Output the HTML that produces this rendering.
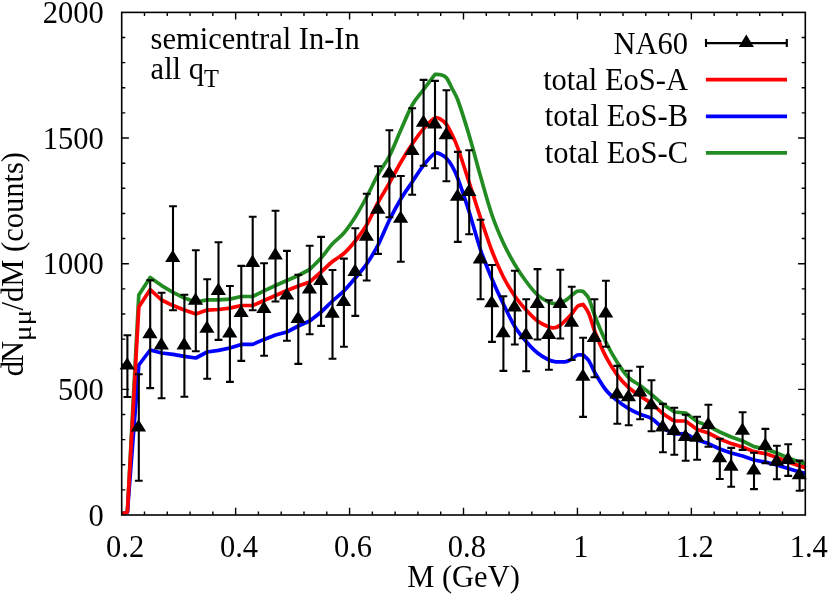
<!DOCTYPE html>
<html><head><meta charset="utf-8"><title>plot</title>
<style>html,body{margin:0;padding:0;background:#fff}svg{display:block;will-change:transform}.t{font-family:"Liberation Serif",serif}</style></head>
<body>
<svg width="830" height="594" viewBox="0 0 830 594">
<rect width="830" height="594" fill="#fff"/>
<defs><clipPath id="c"><rect x="121.7" y="12.4" width="683.5999999999999" height="502.6"/></clipPath></defs>
<path d="M144.49,515.0v-3.6M144.49,12.4v3.6M167.27,515.0v-3.6M167.27,12.4v3.6M190.06,515.0v-3.6M190.06,12.4v3.6M212.85,515.0v-3.6M212.85,12.4v3.6M235.63,515.0v-7.2M235.63,12.4v7.2M258.42,515.0v-3.6M258.42,12.4v3.6M281.21,515.0v-3.6M281.21,12.4v3.6M303.99,515.0v-3.6M303.99,12.4v3.6M326.78,515.0v-3.6M326.78,12.4v3.6M349.57,515.0v-7.2M349.57,12.4v7.2M372.35,515.0v-3.6M372.35,12.4v3.6M395.14,515.0v-3.6M395.14,12.4v3.6M417.93,515.0v-3.6M417.93,12.4v3.6M440.71,515.0v-3.6M440.71,12.4v3.6M463.50,515.0v-7.2M463.50,12.4v7.2M486.29,515.0v-3.6M486.29,12.4v3.6M509.07,515.0v-3.6M509.07,12.4v3.6M531.86,515.0v-3.6M531.86,12.4v3.6M554.65,515.0v-3.6M554.65,12.4v3.6M577.43,515.0v-7.2M577.43,12.4v7.2M600.22,515.0v-3.6M600.22,12.4v3.6M623.01,515.0v-3.6M623.01,12.4v3.6M645.79,515.0v-3.6M645.79,12.4v3.6M668.58,515.0v-3.6M668.58,12.4v3.6M691.37,515.0v-7.2M691.37,12.4v7.2M714.15,515.0v-3.6M714.15,12.4v3.6M736.94,515.0v-3.6M736.94,12.4v3.6M759.73,515.0v-3.6M759.73,12.4v3.6M782.51,515.0v-3.6M782.51,12.4v3.6M121.7,489.87h3.6M805.3,489.87h-3.6M121.7,464.74h3.6M805.3,464.74h-3.6M121.7,439.61h3.6M805.3,439.61h-3.6M121.7,414.48h3.6M805.3,414.48h-3.6M121.7,389.35h7.2M805.3,389.35h-7.2M121.7,364.22h3.6M805.3,364.22h-3.6M121.7,339.09h3.6M805.3,339.09h-3.6M121.7,313.96h3.6M805.3,313.96h-3.6M121.7,288.83h3.6M805.3,288.83h-3.6M121.7,263.70h7.2M805.3,263.70h-7.2M121.7,238.57h3.6M805.3,238.57h-3.6M121.7,213.44h3.6M805.3,213.44h-3.6M121.7,188.31h3.6M805.3,188.31h-3.6M121.7,163.18h3.6M805.3,163.18h-3.6M121.7,138.05h7.2M805.3,138.05h-7.2M121.7,112.92h3.6M805.3,112.92h-3.6M121.7,87.79h3.6M805.3,87.79h-3.6M121.7,62.66h3.6M805.3,62.66h-3.6M121.7,37.53h3.6M805.3,37.53h-3.6" stroke="#000" stroke-width="1.4" fill="none"/>
<g clip-path="url(#c)" fill="none" stroke-width="3.7" stroke-linejoin="round">
<path d="M121.7,514.0L127.4,512.0L138.8,295.0L150.2,277.5L161.6,285.6L173.0,292.4L184.4,298.0L195.8,302.0L207.2,299.9L218.5,299.9L229.9,299.1L241.3,296.5L252.7,296.5L264.1,290.9L275.5,285.5L286.9,280.5L298.3,275.5L309.7,269.5C313.49,265.67 317.28,262.28 321.08,258.00C324.88,253.72 328.68,247.97 332.47,243.80C336.27,239.63 340.07,237.47 343.87,233.00C347.66,228.53 351.46,223.00 355.26,217.00C359.06,211.00 362.86,204.10 366.65,197.00C370.45,189.90 374.25,181.23 378.05,174.40C381.84,167.57 385.64,163.40 389.44,156.00C393.24,148.60 397.03,138.50 400.83,130.00C404.63,121.50 408.43,111.75 412.23,105.00C416.02,98.25 419.82,94.62 423.62,89.50C427.42,84.38 431.21,79.37 435.01,74.30C436.91,74.47 438.81,74.22 440.71,74.80C442.61,75.38 444.51,75.52 446.40,77.80C448.30,80.08 450.20,84.80 452.10,88.50C454.00,92.20 455.90,94.78 457.80,100.00C461.59,110.44 465.39,122.75 469.19,135.50C472.99,148.25 476.79,163.25 480.58,176.50C484.38,189.75 488.18,203.92 491.98,215.00C495.77,226.08 499.57,234.75 503.37,243.00C507.17,251.25 510.96,258.08 514.76,264.50C518.56,270.92 522.36,276.42 526.15,281.50C529.95,286.58 533.75,291.52 537.55,295.00C541.35,298.48 545.14,300.49 548.94,302.40C550.84,303.36 552.74,303.57 554.64,303.60C556.54,303.63 558.44,303.18 560.33,302.60C562.23,302.02 564.13,301.30 566.03,300.10C567.93,298.90 569.83,296.87 571.73,295.40C573.63,293.93 575.52,291.98 577.42,291.30C579.32,290.62 581.22,291.30 583.12,291.30C585.02,293.70 586.92,294.55 588.82,298.50C590.72,302.45 592.61,310.17 594.51,315.00C598.31,324.67 602.11,334.08 605.91,342.00C609.70,349.92 613.50,356.57 617.30,362.50C621.10,368.43 624.89,373.77 628.69,377.60C632.49,381.43 636.29,382.68 640.09,385.50C643.88,388.32 647.68,391.42 651.48,394.50C655.28,397.58 659.07,401.08 662.87,404.00C666.67,406.92 670.47,409.33 674.26,412.00L685.7,413.0L697.1,421.6L708.4,426.0L719.8,432.0L731.2,437.0L742.6,441.0L754.0,446.6L765.4,449.0L776.8,453.0L788.2,458.0L799.6,462.0L805.3,463.6" stroke="#228b22"/>
<path d="M121.7,514.0L127.4,512.0L138.8,365.0L150.2,350.0L161.6,353.0L173.0,354.4L184.4,356.4L195.8,358.0L207.2,352.0L218.5,350.4L229.9,348.0L241.3,344.4L252.7,344.4L264.1,339.4L275.5,335.0L286.9,332.0L298.3,326.0L309.7,321.0C313.49,318.00 317.28,315.33 321.08,312.00C324.88,308.67 328.68,304.50 332.47,301.00C336.27,297.50 340.07,294.83 343.87,291.00C347.66,287.17 351.46,282.50 355.26,278.00C359.06,273.50 362.86,269.50 366.65,264.00C370.45,258.50 374.25,252.33 378.05,245.00C381.84,237.67 385.64,227.67 389.44,220.00C393.24,212.33 397.03,205.33 400.83,199.00C404.63,192.67 408.43,187.65 412.23,182.00C416.02,176.35 419.82,169.90 423.62,165.10C427.42,160.30 431.21,155.62 435.01,153.20C436.91,151.99 438.81,153.37 440.71,154.20C442.61,155.03 444.51,156.22 446.40,158.20C448.30,160.18 450.20,162.75 452.10,166.10C454.00,169.45 455.90,173.20 457.80,178.30C461.59,188.50 465.39,200.05 469.19,212.00C472.99,223.95 476.79,238.83 480.58,250.00C484.38,261.17 488.18,270.00 491.98,279.00C495.77,288.00 499.57,296.08 503.37,304.00C507.17,311.92 510.96,320.25 514.76,326.50C518.56,332.75 522.36,337.08 526.15,341.50C529.95,345.92 533.75,349.92 537.55,353.00C541.35,356.08 545.14,358.09 548.94,360.00C550.84,360.96 552.74,361.30 554.64,361.60C556.54,361.90 558.44,361.80 560.33,361.80C562.23,361.80 564.13,362.03 566.03,361.60C567.93,361.17 569.83,360.28 571.73,359.20C573.63,358.12 575.52,355.82 577.42,355.10C579.32,354.38 581.22,354.97 583.12,354.90C585.02,356.87 586.92,357.95 588.82,360.80C590.72,363.65 592.61,368.76 594.51,372.00C598.31,378.49 602.11,385.23 605.91,390.00C609.70,394.77 613.50,397.50 617.30,400.60C621.10,403.70 624.89,406.33 628.69,408.60C632.49,410.87 636.29,412.57 640.09,414.20C643.88,415.83 647.68,416.10 651.48,418.40C655.28,420.70 659.07,425.40 662.87,428.00C666.67,430.60 670.47,432.00 674.26,434.00L685.7,433.6L697.1,440.0L708.4,443.6L719.8,449.0L731.2,453.0L742.6,456.0L754.0,460.0L765.4,462.0L776.8,465.0L788.2,468.4L799.6,472.0L805.3,473.4" stroke="#0000ff"/>
<path d="M121.7,514.0L127.4,512.0L138.8,307.0L150.2,289.6L161.6,300.0L173.0,305.6L184.4,310.0L195.8,314.0L207.2,310.1L218.5,309.5L229.9,308.1L241.3,305.5L252.7,305.5L264.1,300.5L275.5,295.5L286.9,290.5L298.3,286.0L309.7,282.0C313.49,278.67 317.28,275.42 321.08,272.00C324.88,268.58 328.68,264.58 332.47,261.50C336.27,258.42 340.07,256.92 343.87,253.50C347.66,250.08 351.46,245.75 355.26,241.00C359.06,236.25 362.86,231.42 366.65,225.00C370.45,218.58 374.25,209.50 378.05,202.50C381.84,195.50 385.64,189.72 389.44,183.00C393.24,176.28 397.03,168.70 400.83,162.20C404.63,155.70 408.43,149.60 412.23,144.00C416.02,138.40 419.82,132.97 423.62,128.60C427.42,124.23 431.21,119.84 435.01,117.80C436.91,116.78 438.81,118.30 440.71,119.40C442.61,120.50 444.51,121.83 446.40,124.40C448.30,126.97 450.20,130.87 452.10,134.80C454.00,138.73 455.90,142.70 457.80,148.00C461.59,158.60 465.39,170.83 469.19,182.50C472.99,194.17 476.79,206.58 480.58,218.00C484.38,229.42 488.18,241.17 491.98,251.00C495.77,260.83 499.57,269.50 503.37,277.00C507.17,284.50 510.96,290.50 514.76,296.00C518.56,301.50 522.36,305.83 526.15,310.00C529.95,314.17 533.75,318.17 537.55,321.00C541.35,323.83 545.14,325.51 548.94,327.00C550.84,327.74 552.74,328.03 554.64,327.70C556.54,327.37 558.44,326.53 560.33,325.00C564.13,321.93 567.93,318.03 571.73,313.90C573.63,311.83 575.52,307.97 577.42,306.40C579.32,304.83 581.22,305.13 583.12,304.50C585.02,307.50 586.92,309.13 588.82,313.50C590.72,317.87 592.61,325.90 594.51,330.70C598.31,340.30 602.11,349.30 605.91,356.70C609.70,364.10 613.50,369.95 617.30,375.10C621.10,380.25 624.89,384.12 628.69,387.60C632.49,391.08 636.29,393.35 640.09,396.00C643.88,398.65 647.68,400.58 651.48,403.50C655.28,406.42 659.07,410.58 662.87,413.50C666.67,416.42 670.47,418.50 674.26,421.00L685.7,421.0L697.1,429.4L708.4,433.0L719.8,439.0L731.2,443.6L742.6,447.0L754.0,451.6L765.4,453.6L776.8,457.4L788.2,462.0L799.6,466.0L805.3,467.6" stroke="#ff0000"/>
</g>
<path d="M127.4,335.3V397.0M123.5,335.3h7.8M123.5,397.0h7.8M138.8,374.3V480.7M134.9,374.3h7.8M134.9,480.7h7.8M150.2,280.3V388.1M146.3,280.3h7.8M146.3,388.1h7.8M161.6,292.7V398.3M157.7,292.7h7.8M157.7,398.3h7.8M173.0,206.3V310.3M169.1,206.3h7.8M169.1,310.3h7.8M184.4,294.7V396.8M180.5,294.7h7.8M180.5,396.8h7.8M195.8,250.3V351.3M191.9,250.3h7.8M191.9,351.3h7.8M207.2,279.3V378.7M203.3,279.3h7.8M203.3,378.7h7.8M218.5,242.3V339.9M214.6,242.3h7.8M214.6,339.9h7.8M229.9,286.0V381.9M226.0,286.0h7.8M226.0,381.9h7.8M241.3,265.9V360.9M237.4,265.9h7.8M237.4,360.9h7.8M252.7,216.7V310.3M248.8,216.7h7.8M248.8,310.3h7.8M264.1,263.3V355.7M260.2,263.3h7.8M260.2,355.7h7.8M275.5,210.7V301.5M271.6,210.7h7.8M271.6,301.5h7.8M286.9,250.9V340.7M283.0,250.9h7.8M283.0,340.7h7.8M298.3,274.8V363.9M294.4,274.8h7.8M294.4,363.9h7.8M309.7,245.7V334.3M305.8,245.7h7.8M305.8,334.3h7.8M321.1,236.9V325.9M317.2,236.9h7.8M317.2,325.9h7.8M332.5,270.0V358.7M328.6,270.0h7.8M328.6,358.7h7.8M343.9,258.6V346.7M340.0,258.6h7.8M340.0,346.7h7.8M355.3,228.3V315.9M351.4,228.3h7.8M351.4,315.9h7.8M366.7,193.7V280.5M362.8,193.7h7.8M362.8,280.5h7.8M378.0,166.2V253.9M374.1,166.2h7.8M374.1,253.9h7.8M389.4,130.3V217.3M385.5,130.3h7.8M385.5,217.3h7.8M400.8,176.0V261.8M396.9,176.0h7.8M396.9,261.8h7.8M412.2,108.3V194.7M408.3,108.3h7.8M408.3,194.7h7.8M423.6,79.9V165.7M419.7,79.9h7.8M419.7,165.7h7.8M435.0,80.9V168.3M431.1,80.9h7.8M431.1,168.3h7.8M446.4,90.3V181.3M442.5,90.3h7.8M442.5,181.3h7.8M457.8,151.9V241.9M453.9,151.9h7.8M453.9,241.9h7.8M469.2,150.3V234.3M465.3,150.3h7.8M465.3,234.3h7.8M480.6,219.7V299.3M476.7,219.7h7.8M476.7,299.3h7.8M492.0,265.0V341.9M488.1,265.0h7.8M488.1,341.9h7.8M503.4,296.3V370.9M499.5,296.3h7.8M499.5,370.9h7.8M514.8,270.8V344.5M510.9,270.8h7.8M510.9,344.5h7.8M526.2,299.3V371.3M522.3,299.3h7.8M522.3,371.3h7.8M537.5,269.1V339.5M533.6,269.1h7.8M533.6,339.5h7.8M548.9,300.3V369.7M545.0,300.3h7.8M545.0,369.7h7.8M560.3,269.7V338.5M556.4,269.7h7.8M556.4,338.5h7.8M571.7,286.7V360.0M567.8,286.7h7.8M567.8,360.0h7.8M583.1,337.7V416.9M579.2,337.7h7.8M579.2,416.9h7.8M594.5,299.3V377.3M590.6,299.3h7.8M590.6,377.3h7.8M605.9,280.7V346.8M602.0,280.7h7.8M602.0,346.8h7.8M617.3,365.9V423.7M613.4,365.9h7.8M613.4,423.7h7.8M628.7,370.7V425.3M624.8,370.7h7.8M624.8,425.3h7.8M640.1,366.7V419.3M636.2,366.7h7.8M636.2,419.3h7.8M651.5,380.3V431.3M647.6,380.3h7.8M647.6,431.3h7.8M662.9,403.9V452.3M659.0,403.9h7.8M659.0,452.3h7.8M674.3,407.7V454.7M670.4,407.7h7.8M670.4,454.7h7.8M685.7,414.7V460.7M681.8,414.7h7.8M681.8,460.7h7.8M697.1,416.7V459.7M693.2,416.7h7.8M693.2,459.7h7.8M708.4,404.7V446.7M704.5,404.7h7.8M704.5,446.7h7.8M719.8,438.7V479.0M715.9,438.7h7.8M715.9,479.0h7.8M731.2,447.9V486.7M727.3,447.9h7.8M727.3,486.7h7.8M742.6,412.3V449.9M738.7,412.3h7.8M738.7,449.9h7.8M754.0,452.7V489.1M750.1,452.7h7.8M750.1,489.1h7.8M765.4,428.9V463.3M761.5,428.9h7.8M761.5,463.3h7.8M776.8,445.7V479.3M772.9,445.7h7.8M772.9,479.3h7.8M788.2,444.3V475.9M784.3,444.3h7.8M784.3,475.9h7.8M799.6,460.6V490.8M795.7,460.6h7.8M795.7,490.8h7.8" stroke="#000" stroke-width="2.1" fill="none"/>
<path d="M127.2,357.3l-7.6,12.3h15.2zM138.5,419.2l-7.6,12.3h15.2zM149.9,325.9l-7.6,12.3h15.2zM161.3,337.1l-7.6,12.3h15.2zM172.7,249.8l-7.6,12.3h15.2zM184.1,337.1l-7.6,12.3h15.2zM195.5,292.4l-7.6,12.3h15.2zM206.9,320.5l-7.6,12.3h15.2zM218.3,282.6l-7.6,12.3h15.2zM229.7,325.3l-7.6,12.3h15.2zM241.1,304.8l-7.6,12.3h15.2zM252.5,254.6l-7.6,12.3h15.2zM263.9,300.8l-7.6,12.3h15.2zM275.3,247.3l-7.6,12.3h15.2zM286.7,287.2l-7.6,12.3h15.2zM298.0,310.7l-7.6,12.3h15.2zM309.4,281.3l-7.6,12.3h15.2zM320.8,272.8l-7.6,12.3h15.2zM332.2,305.5l-7.6,12.3h15.2zM343.6,293.8l-7.6,12.3h15.2zM355.0,263.6l-7.6,12.3h15.2zM366.4,228.4l-7.6,12.3h15.2zM377.8,201.5l-7.6,12.3h15.2zM389.2,165.2l-7.6,12.3h15.2zM400.6,210.5l-7.6,12.3h15.2zM412.0,142.8l-7.6,12.3h15.2zM423.4,114.4l-7.6,12.3h15.2zM434.8,116.1l-7.6,12.3h15.2zM446.2,127.0l-7.6,12.3h15.2zM457.5,188.5l-7.6,12.3h15.2zM468.9,183.7l-7.6,12.3h15.2zM480.3,251.1l-7.6,12.3h15.2zM491.7,294.9l-7.6,12.3h15.2zM503.1,325.0l-7.6,12.3h15.2zM514.5,299.1l-7.6,12.3h15.2zM525.9,327.0l-7.6,12.3h15.2zM537.3,295.8l-7.6,12.3h15.2zM548.7,326.8l-7.6,12.3h15.2zM560.1,295.6l-7.6,12.3h15.2zM571.5,314.4l-7.6,12.3h15.2zM582.9,368.5l-7.6,12.3h15.2zM594.3,329.8l-7.6,12.3h15.2zM605.7,305.2l-7.6,12.3h15.2zM617.0,386.2l-7.6,12.3h15.2zM628.4,389.0l-7.6,12.3h15.2zM639.8,384.3l-7.6,12.3h15.2zM651.2,396.9l-7.6,12.3h15.2zM662.6,419.1l-7.6,12.3h15.2zM674.0,422.6l-7.6,12.3h15.2zM685.4,428.8l-7.6,12.3h15.2zM696.8,429.4l-7.6,12.3h15.2zM708.2,416.8l-7.6,12.3h15.2zM719.6,449.9l-7.6,12.3h15.2zM731.0,458.4l-7.6,12.3h15.2zM742.4,422.4l-7.6,12.3h15.2zM753.8,462.2l-7.6,12.3h15.2zM765.2,437.6l-7.6,12.3h15.2zM776.6,453.4l-7.6,12.3h15.2zM787.9,451.6l-7.6,12.3h15.2zM799.3,466.9l-7.6,12.3h15.2z" fill="#000"/>
<rect x="121.7" y="12.4" width="683.5999999999999" height="502.6" fill="none" stroke="#000" stroke-width="1.6"/>
<path d="M706,43.1H786.8M706,39.0v8.1M786.8,39.0v8.1" stroke="#000" stroke-width="2.1" fill="none"/>
<path d="M746.3,34.6l-7.6,12.3h15.2z" fill="#000"/>
<path d="M705.9,79.7H787.0" stroke="#ff0000" stroke-width="3.7"/>
<path d="M705.9,116.3H787.0" stroke="#0000ff" stroke-width="3.7"/>
<path d="M705.9,152.8H787.0" stroke="#228b22" stroke-width="3.7"/>
<g class="t" font-size="30.5" fill="#000">
<text x="103.8" y="525.6" text-anchor="end">0</text>
<text x="103.8" y="400.0" text-anchor="end">500</text>
<text x="103.8" y="274.3" text-anchor="end">1000</text>
<text x="103.8" y="148.6" text-anchor="end">1500</text>
<text x="103.8" y="23.0" text-anchor="end">2000</text>
<text x="125.1" y="556.8" text-anchor="middle">0.2</text>
<text x="239.0" y="556.8" text-anchor="middle">0.4</text>
<text x="353.0" y="556.8" text-anchor="middle">0.6</text>
<text x="466.9" y="556.8" text-anchor="middle">0.8</text>
<text x="580.8" y="556.8" text-anchor="middle">1</text>
<text x="694.8" y="556.8" text-anchor="middle">1.2</text>
<text x="808.7" y="556.8" text-anchor="middle">1.4</text>
<text x="463.5" y="587" text-anchor="middle">M (GeV)</text>
<g transform="translate(23,0) rotate(-90)"><text x="-376.15" y="0">d</text><text x="-363" y="0">N</text><text transform="translate(-341.3,8) scale(1.21,1)" font-size="24.4">μμ</text><text x="-310.45" y="0">/dM (counts)</text></g>
<text x="150.6" y="48.6">semicentral In-In</text>
<text x="150.6" y="78.8">all q<tspan font-size="24.4" dy="8">T</tspan></text>
<text x="688" y="53.5" text-anchor="end">NA60</text>
<text x="688" y="89.6" text-anchor="end">total EoS-A</text>
<text x="688" y="126.1" text-anchor="end">total EoS-B</text>
<text x="688" y="162.6" text-anchor="end">total EoS-C</text>
</g>
</svg>
</body></html>
